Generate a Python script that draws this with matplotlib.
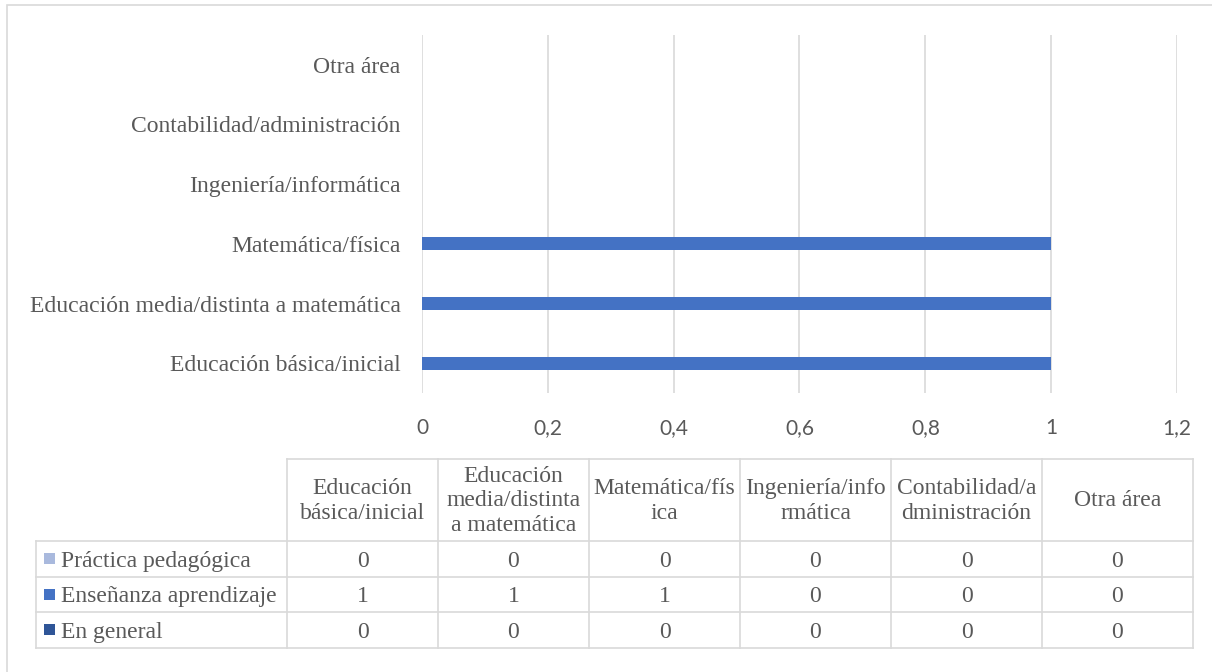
import matplotlib.pyplot as plt
from matplotlib.lines import Line2D
from matplotlib.patches import Rectangle
import numpy as np

# categories, bottom to top as in the chart
categories = ['Educación básica/inicial', 'Educación media/distinta a matemática',
              'Matemática/física', 'Ingeniería/informática',
              'Contabilidad/administración', 'Otra área']
# wrapped header labels shown in the data table
table_headers = ['Educación\nbásica/inicial', 'Educación\nmedia/distinta\na matemática',
                 'Matemática/fís\nica', 'Ingeniería/info\nrmática',
                 'Contabilidad/a\ndministración', 'Otra área']
series_names = ['Práctica pedagógica', 'Enseñanza aprendizaje', 'En general']
practica = [0, 0, 0, 0, 0, 0]
ensenanza = [1, 1, 1, 0, 0, 0]
general = [0, 0, 0, 0, 0, 0]
series_values = [practica, ensenanza, general]
series_colors = ['#A9B9DD', '#4472C4', '#2F5597']
xticks = [0, 0.2, 0.4, 0.6, 0.8, 1, 1.2]

W, H = 1212, 672
SERIF = 'Liberation Serif'
SANS = 'Lato'
TXT = '#595959'
GRID = '#D9D9D9'

fig = plt.figure(figsize=(W / 100, H / 100), dpi=100)


def fx(x):
    return x / W


def fy(y):
    return 1 - y / H


# chart area border (runs off the right and bottom edges)
fig.add_artist(Rectangle((fx(7), fy(1400)), fx(1600), fy(5) - fy(1400),
                         transform=fig.transFigure, fill=False,
                         edgecolor=GRID, linewidth=1.2))

ax = fig.add_axes([fx(422), fy(393), fx(1177) - fx(422), fy(35) - fy(393)])
y = np.arange(len(categories))
bar_h = 0.22
offsets = [bar_h, 0, -bar_h]
for vals, off, col, name in zip(series_values, offsets, series_colors, series_names):
    ax.barh(y + off, vals, height=bar_h, color=col, linewidth=0, label=name, zorder=3)

ax.set_xlim(0, 1.2)
ax.set_ylim(-0.5, len(categories) - 0.5)
ax.set_xticks(xticks)
ax.set_xticklabels([f'{t:g}'.replace('.', ',') for t in xticks],
                   fontfamily=SANS, fontsize=15, color=TXT)
ax.set_yticks(y)
ax.set_yticklabels(categories, fontfamily=SERIF, fontsize=17, color=TXT)
ax.tick_params(axis='both', length=0)
ax.tick_params(axis='x', pad=18)
ax.tick_params(axis='y', pad=15.5)
ax.grid(axis='x', color=GRID, linewidth=1.2, zorder=0)
for s in ax.spines.values():
    s.set_visible(False)

# data table below the chart
tbl_left, lab_right, col_w = 36, 287, 151
tbl_top, head_bot, row_h = 459, 541, 35.5
n_cols = len(table_headers)
tbl_right = lab_right + n_cols * col_w
row_lines = [head_bot + i * row_h for i in range(len(series_names) + 1)]
tbl_bot = row_lines[-1]


def hline(x0, x1, yy):
    fig.add_artist(Line2D([fx(x0), fx(x1)], [fy(yy), fy(yy)], transform=fig.transFigure,
                          color=GRID, linewidth=1.2))


def vline(xx, y0, y1):
    fig.add_artist(Line2D([fx(xx), fx(xx)], [fy(y0), fy(y1)], transform=fig.transFigure,
                          color=GRID, linewidth=1.2))


hline(lab_right, tbl_right, tbl_top)
for yy in row_lines:
    hline(tbl_left, tbl_right, yy)
vline(tbl_left, head_bot, tbl_bot)
for i in range(n_cols + 1):
    vline(lab_right + i * col_w, tbl_top, tbl_bot)

for i, head in enumerate(table_headers):
    fig.text(fx(lab_right + (i + 0.5) * col_w), fy((tbl_top + head_bot) / 2 + 1), head,
             ha='center', va='center', fontfamily=SERIF, fontsize=17, color=TXT,
             linespacing=1.24)

for r, (name, vals, col) in enumerate(zip(series_names, series_values, series_colors)):
    yc = head_bot + (r + 0.5) * row_h
    fig.add_artist(Rectangle((fx(44), fy(yc + 5.5)), fx(11), fy(yc - 5.5) - fy(yc + 5.5),
                             transform=fig.transFigure, facecolor=col, edgecolor='none'))
    fig.text(fx(61), fy(yc), name, ha='left', va='center_baseline',
             fontfamily=SERIF, fontsize=17, color=TXT)
    for i, v in enumerate(vals):
        fig.text(fx(lab_right + (i + 0.5) * col_w), fy(yc), str(v), ha='center',
                 va='center_baseline', fontfamily=SERIF, fontsize=17, color=TXT)

fig.savefig('out.png', dpi=100, facecolor='white')
